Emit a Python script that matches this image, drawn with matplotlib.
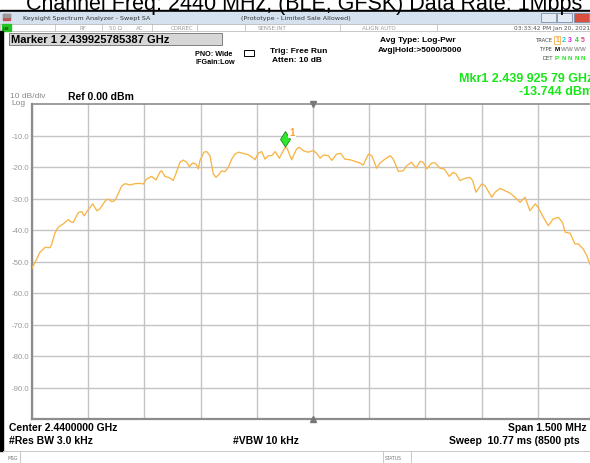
"""Swept SA screenshot: BLE GFSK channel at 2440 MHz, 1.5 MHz span."""

import matplotlib

matplotlib.use("Agg")
import matplotlib.pyplot as plt
from matplotlib.patches import Rectangle, Polygon
from matplotlib.path import Path

plt.rcParams["font.family"] = ["Liberation Sans", "DejaVu Sans"]

W, H = 590, 464
TRACE = "#f7b547"
GRIDC = "#c4c4c4"
FRAME = "#8c8c8c"
GREEN = "#19e619"

CENTER_GHZ = 2.44
SPAN_KHZ = 1500
REF_DBM = 0.0
DB_DIV = 10
Y_LABELS = ["-10.0", "-20.0", "-30.0", "-40.0", "-50.0",
            "-60.0", "-70.0", "-80.0", "-90.0"]

# trace: offset from centre (kHz), level (dBm)
freq_khz = [-750, -742, -729, -715, -702, -697, -689, -680, -667, -653,
            -646, -640, -626, -617, -611, -600, -588, -577, -569, -553,
            -546, -537, -530, -524, -511, -502, -488, -475, -462, -453,
            -444, -431, -419, -408, -404, -395, -386, -380, -373, -368,
            -355, -346, -337, -330, -321, -312, -306, -302, -291, -284,
            -275, -266, -259, -250, -244, -235, -226, -217, -208, -199,
            -186, -173, -159, -155, -146, -137, -128, -119, -110, -101,
            -90, -74.2, -69, -57, -44, -37, -26, -13, 1, 10,
            19, 28, 41, 50, 63, 74, 85, 99, 112, 125,
            134, 148, 157, 170, 179, 192, 206, 214, 228, 241,
            250, 263, 275, 286, 294, 304, 317, 326, 339, 350,
            364, 373, 382, 392, 406, 419, 426, 435, 450, 459,
            477, 486, 499, 512, 526, 539, 553, 566, 579, 593,
            601, 615, 628, 641, 655, 666, 673, 686, 699, 708,
            721, 731, 739, 750]
level_dbm = [-52.1, -50.3, -47.1, -45.5, -45.6, -44.4, -41.0, -39.1, -38.1, -36.7,
             -37.4, -37.6, -34.4, -34.2, -35.5, -33.6, -31.7, -33.9, -33.3, -30.5,
             -30.2, -31.0, -30.7, -29.6, -26.1, -25.3, -25.7, -25.3, -25.2, -25.4,
             -23.8, -23.0, -24.1, -21.5, -21.2, -23.0, -23.3, -23.6, -24.3, -22.8,
             -18.5, -17.8, -18.5, -19.9, -18.7, -19.1, -20.6, -18.0, -15.3, -15.1,
             -16.4, -22.2, -23.3, -22.2, -21.2, -21.5, -20.1, -17.5, -15.9, -15.3,
             -15.7, -16.1, -17.2, -17.7, -15.6, -15.1, -17.5, -16.4, -16.4, -15.1,
             -17.2, -13.74, -14.1, -17.7, -14.3, -13.7, -14.8, -15.3, -14.8, -15.7,
             -17.2, -16.2, -16.4, -17.9, -15.9, -15.7, -17.5, -17.7, -18.2, -18.7,
             -19.4, -15.9, -16.4, -20.4, -18.7, -17.5, -16.4, -17.5, -21.4, -21.2,
             -19.6, -18.5, -20.3, -18.2, -18.5, -20.6, -18.7, -18.7, -20.4, -20.6,
             -23.0, -21.7, -22.2, -24.3, -23.6, -23.3, -24.3, -28.0, -25.4, -25.9,
             -29.6, -28.0, -26.8, -27.5, -28.3, -29.6, -31.2, -29.6, -33.9, -31.7,
             -32.8, -36.0, -38.6, -36.5, -36.0, -37.6, -40.7, -41.0, -44.4, -44.4,
             -46.0, -48.2, -50.8, -53.4]

MKR_KHZ = -74.2
MKR_DBM = -13.744


def px_text(ov, x, y, s, size=6, weight="normal", color="black", **kw):
    ov.text(x, y, s, fontsize=size, fontweight=weight, color=color,
            va="center", **kw)


def main():
    fig = plt.figure(figsize=(W / 100, H / 100), dpi=100, facecolor="white")

    # overlay in screen pixels for the analyser chrome
    ov = fig.add_axes([0, 0, 1, 1], zorder=0)
    ov.set_xlim(0, W)
    ov.set_ylim(H, 0)
    ov.axis("off")

    fig.text(0.5155, 1 - 10 / H, "Channel Freq: 2440 MHz, (BLE, GFSK) Data Rate: 1Mbps",
             ha="center", va="baseline", fontsize=15.5)

    # window title bar
    ov.add_patch(Rectangle((0, 11), W, 1.5, color="black"))
    ov.add_patch(Rectangle((0, 12.5), W, 12, color="#d5e1ef"))
    ov.add_patch(Rectangle((3, 15), 7, 6, color="#c0504d"))
    ov.add_patch(Rectangle((3, 15), 7, 2.5, color="#9a9a9a"))
    px_text(ov, 23, 18.5, "Keysight Spectrum Analyzer - Swept SA", size=4.6,
            color="#333333", family="DejaVu Sans")
    px_text(ov, 296, 18.5, "(Prototype - Limited Sale Allowed)", size=4.6,
            color="#333333", ha="center", family="DejaVu Sans")
    for bx, fc in ((541, "#e4ebf4"), (557, "#e4ebf4"), (574, "#d9503f")):
        ov.add_patch(Rectangle((bx, 14), 15, 9, fc=fc, ec="#7d8ea6", lw=0.6))

    # status row
    ov.add_patch(Rectangle((0, 24.5), W, 7.5, fc="white", ec="#b0b0b0", lw=0.5))
    ov.add_patch(Rectangle((2, 25), 9, 6.5, color="#22c322"))
    px_text(ov, 3, 28.5, "LXI", size=3, weight="bold", color="#0a3a0a")
    for sx in (55, 102, 152, 197, 245, 340, 437):
        ov.plot([sx, sx], [25, 32], color="#b8b8b8", lw=0.5)
    for sx, s in ((80, "RF"), (109, "50 Ω"), (136, "AC"), (171, "CORREC"),
                  (258, "SENSE:INT"), (362, "ALIGN AUTO")):
        px_text(ov, sx, 28.5, s, size=4, color="#9a9a9a", family="DejaVu Sans")
    px_text(ov, 590, 28.5, "03:33:42 PM Jan 20, 2021", size=4.2, color="#555555",
            ha="right", family="DejaVu Sans")

    # left window edge
    ov.add_patch(Rectangle((0, 32), 3, 420, color="black"))

    # marker readout box
    ov.add_patch(Rectangle((9, 33.5), 213, 12.5, fc="#d6d6d6", ec="#6e6e6e", lw=0.6))
    px_text(ov, 11, 40, "Marker 1 2.439925785387 GHz", size=8, weight="bold")

    px_text(ov, 195, 54, "PNO: Wide", size=5.2, weight="bold")
    px_text(ov, 195, 62.5, "IFGain:Low", size=5.2, weight="bold")
    ov.add_patch(Rectangle((244, 50.5), 10, 6, fc="white", ec="black", lw=0.7))
    px_text(ov, 270, 51.5, "Trig: Free Run", size=6, weight="bold")
    px_text(ov, 272, 61, "Atten: 10 dB", size=6, weight="bold")
    px_text(ov, 380, 41, "Avg Type: Log-Pwr", size=6, weight="bold")
    px_text(ov, 378, 51, "Avg|Hold:>5000/5000", size=6, weight="bold")

    px_text(ov, 553, 41, "TRACE", size=3.8, color="#444444", ha="right",
            family="DejaVu Sans")
    px_text(ov, 553, 49.5, "TYPE", size=3.8, color="#444444", ha="right",
            family="DejaVu Sans")
    px_text(ov, 553, 58, "DET", size=3.8, color="#444444", ha="right",
            family="DejaVu Sans")
    for i, (c, t, d) in enumerate(zip(("#f7a330", "#20c8e0", "#e020e0", "#20d020", "#e04080"),
                                      "MWWWW", "PNNNN")):
        x = 557 + 6.5 * i
        ov.text(x, 41, str(i + 1), fontsize=5, color=c, va="center", ha="center",
                fontweight="bold")
        ov.text(x, 49.5, t, fontsize=4.5, color="black" if i == 0 else "#9a9a9a",
                va="center", ha="center", fontweight="bold")
        ov.text(x, 58, d, fontsize=4.5, color=GREEN, va="center", ha="center",
                fontweight="bold")
    ov.add_patch(Rectangle((554, 37), 6, 8, fc="none", ec="#f7a330", lw=0.5))

    px_text(ov, 593, 79, "Mkr1 2.439 925 79 GHz", size=9, weight="bold",
            color=GREEN, ha="right")
    px_text(ov, 593, 92, "-13.744 dBm", size=9, weight="bold", color=GREEN,
            ha="right")

    px_text(ov, 10, 96.5, "10 dB/div", size=6, color="#8a8a8a")
    px_text(ov, 11, 103.5, "Log", size=6, color="#8a8a8a")
    px_text(ov, 68, 96.5, "Ref 0.00 dBm", size=7.5, weight="bold")

    # bottom annotations
    px_text(ov, 9, 428, "Center 2.4400000 GHz", size=7.5, weight="bold")
    px_text(ov, 9, 441.5, "#Res BW 3.0 kHz", size=7.5, weight="bold")
    px_text(ov, 233, 441.5, "#VBW 10 kHz", size=7.5, weight="bold")
    px_text(ov, 508, 428, "Span 1.500 MHz", size=7.5, weight="bold")
    px_text(ov, 449, 441.5, "Sweep  10.77 ms (8500 pts", size=7.5, weight="bold")
    ov.plot([3, W], [452, 452], color="#c8c8c8", lw=0.7)
    ov.plot([20, 20], [452, 464], color="#c8c8c8", lw=0.7)
    ov.plot([383, 383], [452, 464], color="#c8c8c8", lw=0.7)
    ov.plot([411, 411], [452, 464], color="#c8c8c8", lw=0.7)
    px_text(ov, 8, 459, "MSG", size=3.3, color="#777777", family="DejaVu Sans")
    px_text(ov, 384.5, 459, "STATUS", size=3.3, color="#777777", family="DejaVu Sans")

    # trace axes
    x0, x1, y0, y1 = 32, 594, 105, 420
    ax = fig.add_axes([x0 / W, 1 - y1 / H, (x1 - x0) / W, (y1 - y0) / H], zorder=2)
    ax.set_facecolor("white")
    ax.set_xlim(-SPAN_KHZ / 2, SPAN_KHZ / 2)
    ax.set_ylim(REF_DBM - 10 * DB_DIV, REF_DBM)
    ax.set_xticks([-SPAN_KHZ / 2 + i * SPAN_KHZ / 10 for i in range(11)])
    ax.set_xticklabels([])
    ax.set_yticks([REF_DBM - DB_DIV * (i + 1) for i in range(len(Y_LABELS))])
    ax.set_yticklabels(Y_LABELS)
    ax.tick_params(length=0, labelsize=5.6, labelcolor="#9a9a9a", pad=2)
    ax.grid(True, color=GRIDC, lw=1.0)
    ax.set_axisbelow(True)
    for name, sp in ax.spines.items():
        sp.set_color(FRAME)
        sp.set_linewidth(1.6 if name in ("left", "bottom") else 1.2)

    ax.plot(freq_khz, level_dbm, color=TRACE, lw=0.95, zorder=3)

    # centre reference triangles
    ax.plot([0], [REF_DBM], marker="v", ms=4, color="#777777", clip_on=False,
            transform=ax.transData, zorder=4, markevery=None,
            linestyle="none")
    ax.plot([0], [REF_DBM - 10 * DB_DIV], marker="^", ms=4, color="#777777",
            clip_on=False, linestyle="none", zorder=4)

    # marker diamond sits just above the marked point
    diamond = Path([(0, 0.05), (0.62, 1.0), (0, 2.0), (-0.62, 1.0), (0, 0.05)],
                   [Path.MOVETO, Path.LINETO, Path.LINETO, Path.LINETO, Path.CLOSEPOLY])
    ax.plot([MKR_KHZ], [MKR_DBM], marker=diamond, ms=23, mfc="#2ee82e",
            mec="#138a13", mew=0.6, linestyle="none", zorder=5)
    ax.annotate("1", (MKR_KHZ, MKR_DBM), textcoords="offset points",
                xytext=(5, 11), color="#f7a330", fontsize=7, fontweight="bold",
                ha="center", va="center",
                bbox=dict(boxstyle="square,pad=0.15", fc="white", ec="none"),
                zorder=5)

    fig.savefig("out.png", dpi=100, facecolor="white")
    plt.close(fig)


if __name__ == "__main__":
    main()
